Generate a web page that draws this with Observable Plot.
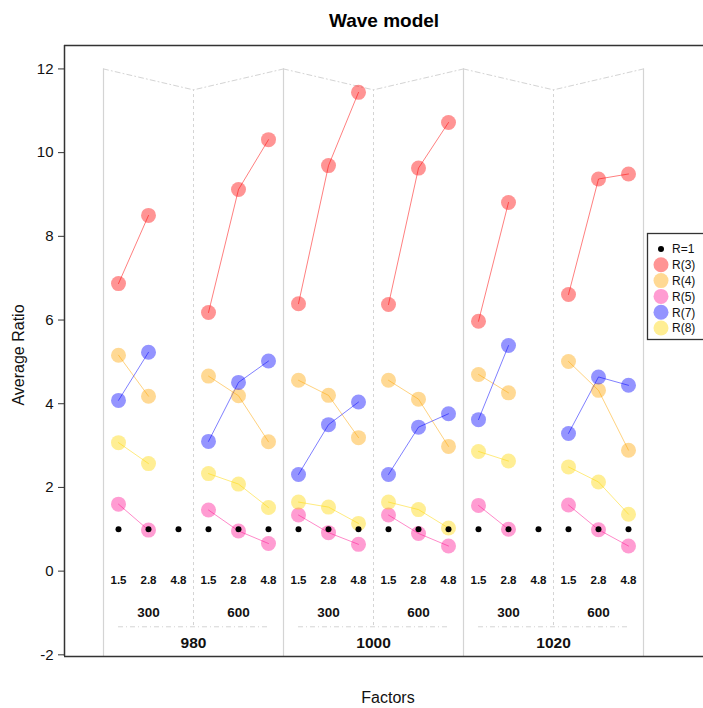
<!DOCTYPE html>
<html><head><meta charset="utf-8">
<script src="https://cdn.jsdelivr.net/npm/d3@7"></script>
<script src="https://cdn.jsdelivr.net/npm/@observablehq/plot@0.6"></script>
<style>
body{margin:0;overflow:hidden;background:#fff;}
#wrap{position:relative;width:703px;height:708px;font-family:"Liberation Sans",Arial,sans-serif;}
#legend{position:absolute;left:647px;top:233px;}
</style>
</head><body>
<div id="wrap"><div id="chart"></div><div id="legend"></div></div>
<script>
// ---- data ----
const groups = ["980", "1000", "1020"];
const subgroups = ["300", "600"];
const factors = ["1.5", "2.8", "4.8"];
const seriesNames = ["R(3)", "R(4)", "R(5)", "R(7)", "R(8)"];
const seriesColors = ["#FF0000", "#FFA500", "#FF1493", "#0000FF", "#FFD700"];
const refName = "R=1";
const r1 = [1,1,1, 1,1,1, 1,1,1, 1,1,1, 1,1,1, 1,1,1];
const r3 = [6.87, 8.50, null, 6.18, 9.12, 10.31, 6.39, 9.69, 11.44, 6.37, 9.63, 10.72, 5.97, 8.81, null, 6.61, 9.37, 9.49];
const r4 = [5.16, 4.18, null, 4.66, 4.19, 3.09, 4.56, 4.20, 3.19, 4.56, 4.11, 2.98, 4.70, 4.26, null, 5.01, 4.32, 2.89];
const r5 = [1.60, 0.98, null, 1.46, 0.96, 0.66, 1.34, 0.92, 0.64, 1.34, 0.90, 0.60, 1.57, 1.00, null, 1.58, 0.99, 0.60];
const r7 = [4.08, 5.23, null, 3.10, 4.51, 5.02, 2.31, 3.50, 4.04, 2.31, 3.44, 3.76, 3.62, 5.39, null, 3.29, 4.64, 4.44];
const r8 = [3.07, 2.57, null, 2.33, 2.08, 1.52, 1.65, 1.53, 1.14, 1.65, 1.47, 1.03, 2.86, 2.63, null, 2.49, 2.13, 1.36];
const yTicks = [-2, 0, 2, 4, 6, 8, 10, 12];

// ---- build tables ----
const seriesValues = [r3, r4, r5, r7, r8];
const nF = factors.length, nS = subgroups.length;
const perGroup = nF * nS;
const nSlots = groups.length * perGroup;
const rows = [];
seriesValues.forEach((vals, k) => {
  vals.forEach((v, i) => {
    if (v != null) rows.push({series: seriesNames[k], slot: i, panel: Math.floor(i / nF), value: v});
  });
});
const refRows = r1.map((v, i) => ({slot: i, value: v}));
const slots = d3.range(nSlots);
const subRows = d3.range(groups.length * nS).map(j => ({slot: j * nF + (nF - 1) / 2, text: subgroups[j % nS]}));
const groupRows = groups.map((g, gi) => ({slot: gi * perGroup + (perGroup - 1) / 2, text: g, gi}));

// layout constants (chart frame geometry in data units)
const xDomain = [-1.8, 19.5];
const yDomain = [-2.04, 12.56];
const topY = 12, midTopY = 11.5, midBottomY = -1.3, underY = -1.33;
const factorLabelY = -0.22, subLabelY = -1.0, groupLabelY = -1.71;

const boundaries = d3.range(groups.length + 1).map(g => g * perGroup - 0.5);
const middles = groups.map((g, gi) => gi * perGroup + perGroup / 2 - 0.5);
const roofRows = [];
groups.forEach((g, gi) => {
  roofRows.push({x: gi * perGroup - 0.5, y: topY, gi});
  roofRows.push({x: gi * perGroup + perGroup / 2 - 0.5, y: midTopY, gi});
  roofRows.push({x: (gi + 1) * perGroup - 0.5, y: topY, gi});
});
const underRows = groups.map((g, gi) => ({x1: gi * perGroup, x2: (gi + 1) * perGroup - 1}));

const gridColor = "#d4d4d4";

const chart = Plot.plot({
  width: 703,
  height: 708,
  marginTop: 45,
  marginBottom: 52,
  marginLeft: 64,
  marginRight: 0,
  style: {fontFamily: "'Liberation Sans', Arial, sans-serif", fontSize: "15px", color: "#111", background: "#fff"},
  x: {type: "linear", domain: xDomain, axis: null},
  y: {domain: yDomain, axis: null},
  color: {domain: seriesNames, range: seriesColors},
  marks: [
    // panel geometry
    Plot.ruleX(boundaries, {y1: yDomain[0], y2: topY, stroke: gridColor, strokeWidth: 1.2}),
    Plot.ruleX(middles, {y1: midBottomY, y2: midTopY, stroke: gridColor, strokeWidth: 1, strokeDasharray: "3,3"}),
    Plot.line(roofRows, {x: "x", y: "y", z: "gi", stroke: gridColor, strokeWidth: 1, strokeDasharray: "5,3,1,3"}),
    Plot.ruleY(underRows, {y: underY, x1: "x1", x2: "x2", stroke: gridColor, strokeWidth: 1, strokeDasharray: "5,3,1,3"}),
    // frame (left, top, bottom)
    Plot.ruleY([yDomain[1], yDomain[0]], {stroke: "#333", strokeWidth: 1.5}),
    Plot.ruleX([xDomain[0]], {stroke: "#333", strokeWidth: 1.5}),
    // y axis
    Plot.axisY({ticks: yTicks, tickFormat: d => String(d), tickSize: 6, tickPadding: 5, fontSize: 15, label: null, stroke: "#333", fill: "#111"}),
    // series lines and points
    Plot.line(rows, {x: "slot", y: "value", z: d => d.series + "|" + d.panel, stroke: "series", strokeOpacity: 0.5, strokeWidth: 1}),
    Plot.dot(rows, {x: "slot", y: "value", r: 7.5, fill: "series", fillOpacity: 0.42, stroke: "none"}),
    Plot.dot(refRows, {x: "slot", y: "value", r: 3, fill: "#000"}),
    // category labels
    Plot.text(slots, {x: d => d, y: factorLabelY, text: d => factors[d % nF], fontSize: 11.5, fontWeight: "bold", fill: "#111"}),
    Plot.text(subRows, {x: "slot", y: subLabelY, text: "text", fontSize: 13.5, fontWeight: "bold", fill: "#111"}),
    Plot.text(groupRows, {x: "slot", y: groupLabelY, text: "text", fontSize: 15.5, fontWeight: "bold", fill: "#111"}),
    // titles
    Plot.text(["Wave model"], {frameAnchor: "top", lineAnchor: "middle", dy: -25, fontSize: 19, fontWeight: "bold", fill: "#000"}),
    Plot.text(["Factors"], {frameAnchor: "bottom", lineAnchor: "middle", textAnchor: "middle", dy: 41, dx: 4, fontSize: 16, fill: "#111"}),
    Plot.text(["Average Ratio"], {frameAnchor: "left", textAnchor: "middle", lineAnchor: "middle", dx: -46, dy: 4, rotate: -90, fontSize: 16, fill: "#111"})
  ]
});
document.getElementById("chart").appendChild(chart);

// ---- legend ----
const legendItems = [{name: refName, color: "#000", r: 3, op: 1}].concat(
  seriesNames.map((n, i) => ({name: n, color: seriesColors[i], r: 7.5, op: 0.42})));
const lw = 60, lh = 107, rowH = 15.8;
const lsvg = d3.select("#legend").append("svg").attr("width", lw).attr("height", lh)
  .style("font-family", "'Liberation Sans', Arial, sans-serif").style("overflow", "visible");
lsvg.append("rect").attr("x", 0.5).attr("y", 0.5).attr("width", lw + 5).attr("height", lh - 1)
  .attr("fill", "#fff").attr("stroke", "#333").attr("stroke-width", 1.3);
const li = lsvg.selectAll("g").data(legendItems).join("g")
  .attr("transform", (d, i) => `translate(0,${16 + i * rowH})`);
li.append("circle").attr("cx", 14).attr("cy", 0).attr("r", d => d.r).attr("fill", d => d.color).attr("fill-opacity", d => d.op);
li.append("text").attr("x", 25).attr("y", 0).attr("dy", "0.36em").attr("font-size", 12).attr("fill", "#111").text(d => d.name);
</script>
</body></html>
